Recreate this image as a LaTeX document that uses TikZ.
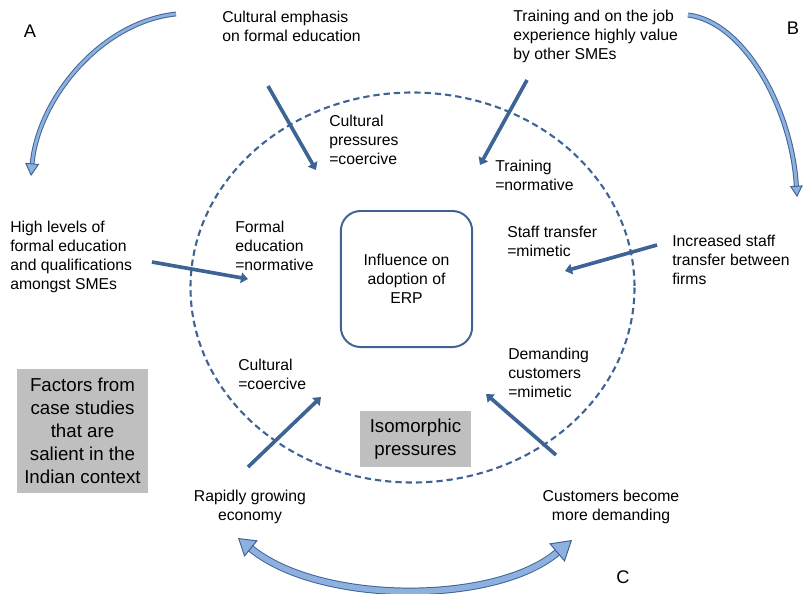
\documentclass[tikz,border=0pt]{standalone}
\usepackage{fontspec}
\setmainfont{Liberation Sans}
\usetikzlibrary{arrows.meta, positioning}

\definecolor{isoblue}{RGB}{62,100,150}
\definecolor{arcfill}{RGB}{141,176,222}
\definecolor{boxgray}{RGB}{191,191,191}

\begin{document}
\begin{tikzpicture}[
    x=0.025cm, y=-0.025cm,
    factor/.style={align=left, anchor=north west, inner sep=0pt, font=\fontsize{11.2}{13.5}\selectfont},
    pressure/.style={factor},
    push/.style={-{Triangle[length=5pt, width=7.5pt]}, line width=2.6pt, draw=isoblue},
    swing/.style={draw=isoblue, double=arcfill, line width=0.7pt},
    greybox/.style={fill=boxgray, align=center, inner sep=0pt, font=\fontsize{13.3}{16.3}\selectfont},
    corner/.style={font=\fontsize{13}{15}\selectfont}
]
    \useasboundingbox (0,0) rectangle (803,593);

    % isomorphic pressures ring and centre
    \draw[isoblue, line width=1.5pt, dash pattern=on 4.5pt off 2.8pt]
        (412.5,287.5) ellipse [x radius=222, y radius=195];
    \node[draw=isoblue, line width=1.4pt, rounded corners=14pt, minimum width=3.28cm,
          minimum height=3.4cm, align=center, font=\fontsize{11.2}{13.5}\selectfont]
        (erp) at (406.5,279) {Influence on\\adoption of\\ERP};
    \node[greybox, minimum width=2.78cm, minimum height=1.4cm] (iso) at (415.5,439)
        {Isomorphic\\pressures};
    \node[greybox, minimum width=3.28cm, minimum height=3.1cm] (india) at (82.5,431)
        {Factors from\\case studies\\that are\\salient in the\\Indian context};

    % factors outside the ring
    \node[factor] (emph) at (222,11) {Cultural emphasis\\on formal education};
    \node[factor] (jobtrain) at (513,10) {Training and on the job\\experience highly value\\by other SMEs};
    \node[factor] (highedu) at (10,221) {High levels of\\formal education\\and qualifications\\amongst SMEs};
    \node[factor] (incstaff) at (672,235) {Increased staff\\transfer between\\firms};
    \node[factor, anchor=north, align=center] (economy) at (250,490) {Rapidly growing\\economy};
    \node[factor, anchor=north, align=center] (demand) at (611,490) {Customers become\\more demanding};

    % pressures inside the ring
    \node[pressure] (culpress) at (329,115) {Cultural\\pressures\\=coercive};
    \node[pressure] (trainnorm) at (495,160) {Training\\=normative};
    \node[pressure] (staffmim) at (507,226) {Staff transfer\\=mimetic};
    \node[pressure] (formnorm) at (235,221) {Formal\\education\\=normative};
    \node[pressure] (culcoer) at (238,359) {Cultural\\=coercive};
    \node[pressure] (demmim) at (508,348) {Demanding\\customers\\=mimetic};

    \node[corner] (A) at (30,31) {A};
    \node[corner] (B) at (793,28) {B};
    \node[corner] (C) at (623,577) {C};

    % arrow ends
    \coordinate (emph out) at (268,86);      \coordinate (emph in) at (316,170);
    \coordinate (job out) at (527,80);       \coordinate (job in) at (480,165);
    \coordinate (staff out) at (657,245);    \coordinate (staff in) at (565,271);
    \coordinate (edu out) at (152,262);      \coordinate (edu in) at (248,279);
    \coordinate (econ out) at (248,467);     \coordinate (econ in) at (321,397);
    \coordinate (cust out) at (556,455);     \coordinate (cust in) at (486,394);

    \draw[push] (emph out) -- (emph in);
    \draw[push] (job out) -- (job in);
    \draw[push] (staff out) -- (staff in);
    \draw[push] (edu out) -- (edu in);
    \draw[push] (econ out) -- (econ in);
    \draw[push] (cust out) -- (cust in);

    % curved links A, B, C
    \coordinate (A from) at (176,14);   \coordinate (A to) at (31,176);
    \coordinate (B from) at (688,15);   \coordinate (B to) at (797,197);
    \coordinate (C left) at (238,538);  \coordinate (C right) at (572,540);

    \draw[swing, double distance=2pt,
          -{Triangle[length=9pt, width=10pt, fill=arcfill, line width=0.7pt]}]
        (A from) .. controls (100,22) and (38,100) .. (A to);
    \draw[swing, double distance=2.2pt,
          -{Triangle[length=8pt, width=9pt, fill=arcfill, line width=0.7pt]}]
        (B from) .. controls (745,22) and (792,110) .. (B to);
    \draw[swing, double distance=4pt,
          {Triangle[length=12pt, width=15pt, fill=arcfill, line width=0.7pt]}-{Triangle[length=14pt, width=17pt, fill=arcfill, line width=0.7pt]}]
        (C left) .. controls (320,605) and (495,605) .. (C right);
\end{tikzpicture}
\end{document}
